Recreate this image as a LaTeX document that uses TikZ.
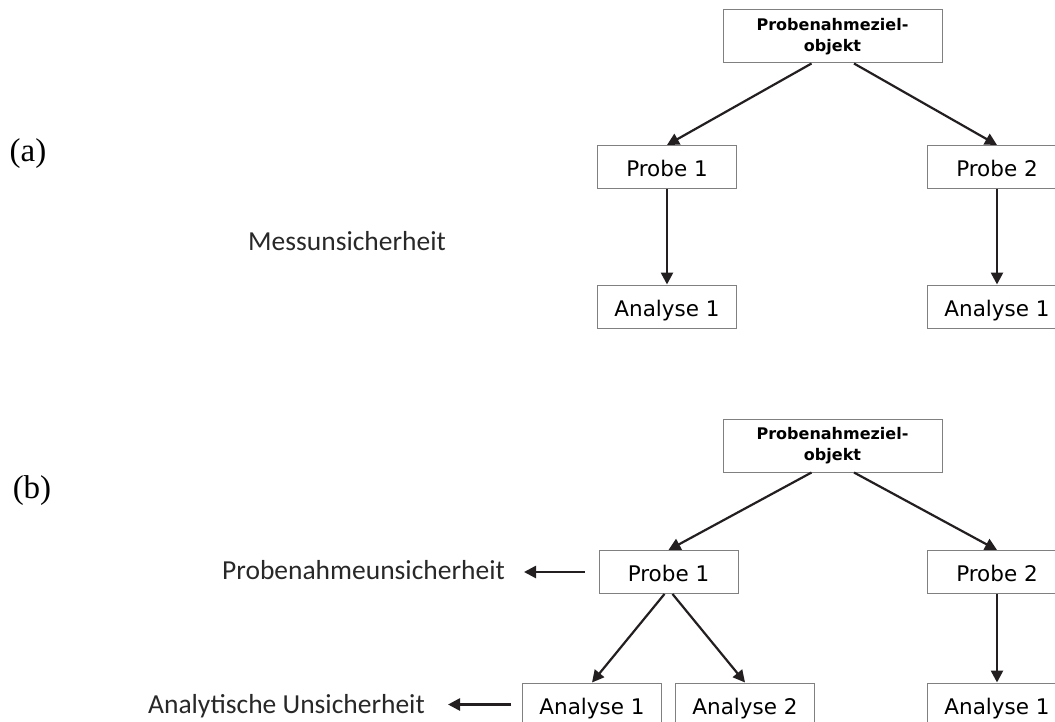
\documentclass[tikz,border=0pt]{standalone}
\usepackage{fontspec}
\usepackage{xcolor}
\usetikzlibrary{arrows.meta}
\usetikzlibrary{positioning}

\newfontfamily\boxfont{DejaVu Sans}
\newfontfamily\labelfont{Carlito}
\newfontfamily\partfont{Liberation Serif}

\definecolor{boxgray}{RGB}{128,128,128}
\definecolor{arrowblack}{RGB}{35,31,32}
\definecolor{labelgray}{RGB}{40,40,40}

\tikzset{
  probebox/.style={draw=boxgray, line width=1pt, minimum width=139pt, minimum height=43pt,
    inner sep=0pt, text height=19pt, text depth=0pt, font=\boxfont\fontsize{21.5}{26}\selectfont},
  topbox/.style={draw=boxgray, line width=1pt, minimum width=219pt, minimum height=53pt,
    inner sep=0pt, align=center, font=\boxfont\bfseries\fontsize{16}{21}\selectfont},
  unclabel/.style={inner sep=0pt, text=labelgray, font=\labelfont\fontsize{27.5}{33}\selectfont},
  partlabel/.style={inner sep=0pt, font=\partfont\fontsize{33}{40}\selectfont},
  arr/.style={draw=arrowblack, line width=2.2pt, -{Triangle[length=12pt,width=12pt]}},
  thickarr/.style={arr, line width=2.6pt}
}

\begin{document}
\begin{tikzpicture}[x=1pt,y=-1pt]
    \useasboundingbox (0,0) rectangle (1055,722);
    \clip (0,0) rectangle (1055,722);

    % (a)
    \node[partlabel] (parta) at (28,154) {(a)};
    \node[topbox] (topa) at (832.5,36.5) {Probenahmeziel-\\objekt};
    \node[probebox] (p1a) at (667,167) {Probe 1};
    \node[probebox] (p2a) at (997,167) {Probe 2};
    \node[probebox] (a1a) at (667,306.5) {Analyse 1};
    \node[probebox] (a2a) at (997,306.5) {Analyse 1};
    \node[unclabel, anchor=base west] (mu) at (248,251) {Messunsicherheit};

    \draw[arr] ([xshift=-21pt]topa.south) -- (p1a.north);
    \draw[arr] ([xshift=21.5pt]topa.south) -- (p2a.north);
    \draw[thickarr] (p1a) -- (a1a);
    \draw[thickarr] (p2a) -- (a2a);

    % (b)
    \node[partlabel] (partb) at (32,491) {(b)};
    \node[topbox] (topb) at (832.5,445.5) {Probenahmeziel-\\objekt};
    \node[probebox] (p1b) at (668.5,572) {Probe 1};
    \node[probebox] (p2b) at (997,572) {Probe 2};
    \node[probebox] (a1b) at (592,704.5) {Analyse 1};
    \node[probebox] (a2b) at (745,704.5) {Analyse 2};
    \node[probebox] (a3b) at (997,704.5) {Analyse 1};
    \node[unclabel, anchor=base east] (pu) at (505,579) {Probenahmeunsicherheit};
    \node[unclabel, anchor=base east] (au) at (425,713) {Analytische Unsicherheit};

    \draw[arr] ([xshift=-21pt]topb.south) -- (p1b.north);
    \draw[arr] ([xshift=21.5pt]topb.south) -- (p2b.north);
    \draw[arr] ([xshift=-4pt]p1b.south) -- (a1b.north);
    \draw[arr] ([xshift=4pt]p1b.south) -- (a2b.north);
    \draw[thickarr] (p2b) -- (a3b);
    \draw[thickarr, shorten <=14pt, shorten >=19pt] (p1b.west) -- (p1b.west -| pu.east);
    \draw[thickarr, shorten <=11pt, shorten >=23pt] (a1b.west) -- (a1b.west -| au.east);

\end{tikzpicture}
\end{document}
